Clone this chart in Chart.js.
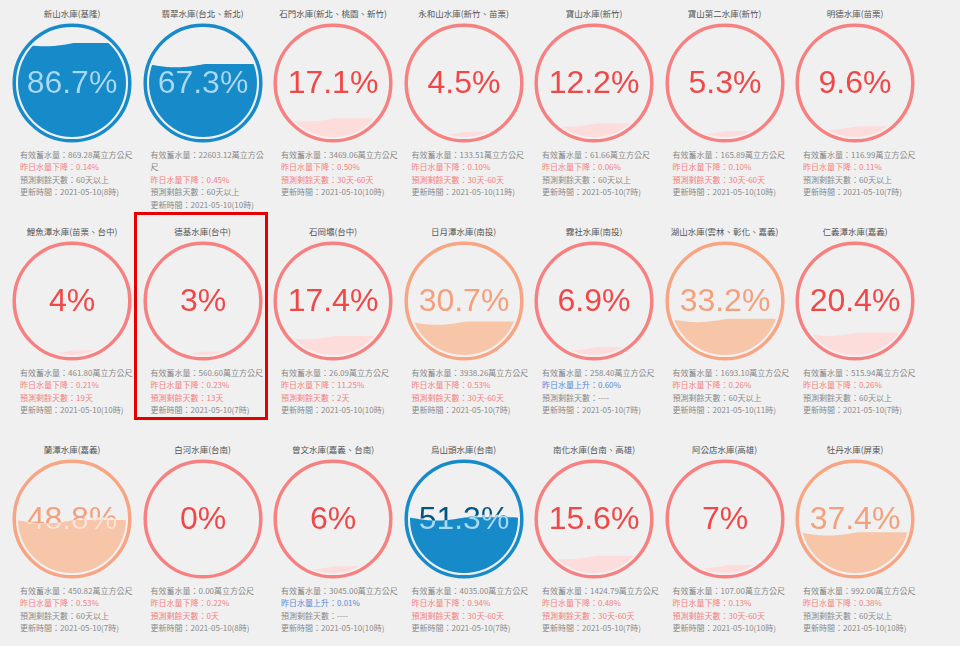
<!DOCTYPE html>
<html>
<head>
<meta charset="utf-8">
<script src="https://cdn.jsdelivr.net/npm/chart.js@4/dist/chart.umd.min.js"></script>
<style>
  body { margin: 0; background: #f0f0f0; }
  #board { position: relative; width: 960px; height: 646px; overflow: hidden; font-family: "Noto Sans CJK TC", "Noto Sans", sans-serif; }
  .cell { position: absolute; width: 130px; height: 210px; }
  .title { position: absolute; top: 6px; left: 0; width: 130px; text-align: center; font-size: 8.5px; line-height: 14px; color: #555; white-space: nowrap; }
  .cell canvas { position: absolute; top: 18px; left: 0; }
  .info { position: absolute; top: 149px; left: 13px; width: 121px; font-size: 8px; line-height: 12.4px; color: #8a8a8a; }
  .down, .warn { color: #f48080; }
  .up { color: #5a88d4; }
  #mark { position: absolute; left: 134px; top: 212px; width: 134px; height: 208px; box-sizing: border-box; border: 3px solid #e60000; }
</style>
</head>
<body>
<div id="board"></div>
<script>
const reservoirs = [
  "新山水庫(基隆)", "翡翠水庫(台北、新北)", "石門水庫(新北、桃園、新竹)", "永和山水庫(新竹、苗栗)",
  "寶山水庫(新竹)", "寶山第二水庫(新竹)", "明德水庫(苗栗)",
  "鯉魚潭水庫(苗栗、台中)", "德基水庫(台中)", "石岡壩(台中)", "日月潭水庫(南投)",
  "霧社水庫(南投)", "湖山水庫(雲林、彰化、嘉義)", "仁義潭水庫(嘉義)",
  "蘭潭水庫(嘉義)", "白河水庫(台南)", "曾文水庫(嘉義、台南)", "烏山頭水庫(台南)",
  "南化水庫(台南、高雄)", "阿公店水庫(高雄)", "牡丹水庫(屏東)"
];
const percents = [86.7, 67.3, 17.1, 4.5, 12.2, 5.3, 9.6, 4, 3, 17.4, 30.7, 6.9, 33.2, 20.4, 48.8, 0, 6, 51.3, 15.6, 7, 37.4];
const storage = [
  "869.28", "22603.12", "3469.06", "133.51", "61.66", "165.89", "116.99",
  "461.80", "560.60", "26.09", "3938.26", "258.40", "1693.10", "515.94",
  "450.82", "0.00", "3045.00", "4035.00", "1424.79", "107.00", "992.00"
];
const changes = [
  -0.14, -0.45, -0.50, -0.10, -0.06, -0.10, -0.11,
  -0.21, -0.23, -11.25, -0.53, 0.60, -0.26, -0.26,
  -0.53, -0.22, 0.01, -0.94, -0.48, -0.13, -0.38
];
const daysLeft = [
  "60天以上", "60天以上", "30天-60天", "30天-60天", "60天以上", "30天-60天", "60天以上",
  "19天", "13天", "2天", "30天-60天", "----", "60天以上", "60天以上",
  "60天以上", "0天", "----", "30天-60天", "30天-60天", "30天-60天", "60天以上"
];
const updateHours = [8, 10, 10, 11, 7, 10, 7, 10, 7, 10, 7, 7, 11, 7, 7, 8, 10, 7, 7, 10, 10];
const updateDate = "2021-05-10";

// colour sets by level
const palettes = {
  high: { ring: "#178bca", wave: "#178bca", text: "#045681", waveText: "#a4dbf8" },
  mid:  { ring: "#f8a583", wave: "#f7c6a9", text: "#f5a07c", waveText: "#fbe3d6" },
  low:  { ring: "#f78080", wave: "#fddcdc", text: "#f04848", waveText: "#ffaaaa" }
};
function paletteFor(p) {
  if (p > 50) return palettes.high;
  if (p >= 25) return palettes.mid;
  return palettes.low;
}

function wavePath(ctx, area, level) {
  const w = area.right - area.left;
  const amp = 3;
  ctx.beginPath();
  ctx.moveTo(area.left, area.bottom + 5);
  for (let x = 0; x <= w; x += 2) {
    ctx.lineTo(area.left + x, level + amp * Math.sin(2 * Math.PI * x / w));
  }
  ctx.lineTo(area.right, area.bottom + 5);
  ctx.closePath();
}

const liquidPlugin = {
  id: "liquid",
  beforeDatasetsDraw(chart) {
    const a = chart.chartArea;
    const bar = chart.getDatasetMeta(0).data[0];
    const ctx = chart.ctx;
    const cx = (a.left + a.right) / 2, cy = (a.top + a.bottom) / 2, r = (a.right - a.left) / 2;
    ctx.save();
    ctx.beginPath();
    ctx.arc(cx, cy, r, 0, Math.PI * 2);
    ctx.clip();
    wavePath(ctx, a, bar.y);
    ctx.clip();
  },
  afterDatasetsDraw(chart) {
    const ctx = chart.ctx;
    ctx.restore();
    const a = chart.chartArea;
    const bar = chart.getDatasetMeta(0).data[0];
    const pal = chart.options.plugins.liquid;
    const cx = (a.left + a.right) / 2, cy = (a.top + a.bottom) / 2, r = (a.right - a.left) / 2;
    const label = chart.data.datasets[0].data[0] + "%";

    ctx.save();
    ctx.font = "32px 'Liberation Sans', Arial, sans-serif";
    ctx.textAlign = "center";
    ctx.textBaseline = "middle";
    ctx.fillStyle = pal.text;
    ctx.fillText(label, cx, cy + 1);
    ctx.beginPath();
    ctx.arc(cx, cy, r, 0, Math.PI * 2);
    ctx.clip();
    wavePath(ctx, a, bar.y);
    ctx.clip();
    ctx.fillStyle = pal.waveText;
    ctx.fillText(label, cx, cy + 1);
    ctx.restore();

    ctx.save();
    ctx.beginPath();
    ctx.arc(cx, cy, r + 3.8, 0, Math.PI * 2);
    ctx.lineWidth = 3.5;
    ctx.strokeStyle = pal.ring;
    ctx.stroke();
    ctx.restore();
  }
};

const board = document.getElementById("board");

reservoirs.forEach((name, i) => {
  const col = i % 7, row = Math.floor(i / 7);
  const cell = document.createElement("div");
  cell.className = "cell";
  cell.style.left = (7 + col * 130.5) + "px";
  cell.style.top = (row * 218) + "px";

  const title = document.createElement("div");
  title.className = "title";
  title.textContent = name;
  cell.appendChild(title);

  const canvas = document.createElement("canvas");
  canvas.width = 130;
  canvas.height = 130;
  cell.appendChild(canvas);

  const c = changes[i];
  const days = daysLeft[i];
  const daysWarn = days !== "60天以上" && days !== "----";
  const info = document.createElement("div");
  info.className = "info";
  info.innerHTML =
    "<div>有效蓄水量：" + storage[i] + "萬立方公尺</div>" +
    "<div class='" + (c < 0 ? "down" : "up") + "'>昨日水量" + (c < 0 ? "下降" : "上升") + "：" + Math.abs(c).toFixed(2) + "%</div>" +
    "<div class='" + (daysWarn ? "warn" : "") + "'>預測剩餘天數：" + days + "</div>" +
    "<div>更新時間：" + updateDate + "(" + updateHours[i] + "時)</div>";
  cell.appendChild(info);
  board.appendChild(cell);

  const pal = paletteFor(percents[i]);
  new Chart(canvas.getContext("2d"), {
    type: "bar",
    data: {
      labels: [name],
      datasets: [{
        data: [percents[i]],
        backgroundColor: pal.wave,
        borderWidth: 0,
        barPercentage: 1,
        categoryPercentage: 1
      }]
    },
    options: {
      responsive: false,
      animation: false,
      events: [],
      layout: { padding: 11 },
      scales: {
        x: { display: false },
        y: { display: false, min: 0, max: 100 }
      },
      plugins: {
        legend: { display: false },
        tooltip: { enabled: false },
        liquid: pal
      }
    },
    plugins: [liquidPlugin]
  });
});

const mark = document.createElement("div");
mark.id = "mark";
board.appendChild(mark);
</script>
</body>
</html>
